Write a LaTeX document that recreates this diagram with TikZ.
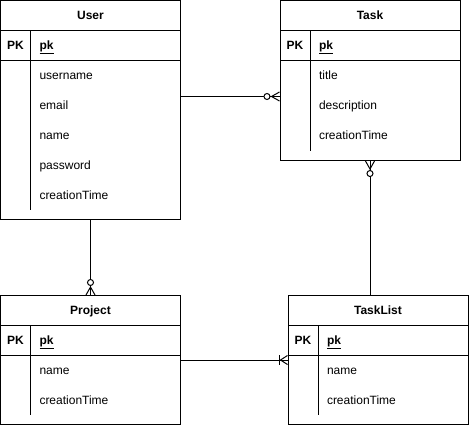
\documentclass[tikz,border=0pt]{standalone}
\usepackage{fontspec}
\setmainfont{Liberation Sans}
\usetikzlibrary{arrows.meta, positioning}

\begin{document}
\begin{tikzpicture}[x=1pt, y=-1pt, line width=1pt, every node/.style={outer sep=0pt, inner sep=0pt, font=\fontsize{12pt}{14pt}\selectfont},
  tbl/.style={draw, minimum width=180pt, anchor=north west},
  head/.style={draw, minimum width=180pt, minimum height=30pt, text height=8.6pt, text depth=0pt, font=\fontsize{12pt}{14pt}\selectfont\bfseries},
  keyrow/.style={draw, minimum width=180pt, minimum height=30pt},
  keycell/.style={minimum width=30pt, minimum height=30pt, text height=8.6pt, text depth=0pt, font=\fontsize{12pt}{14pt}\selectfont\bfseries},
  field/.style={minimum height=30pt, text width=130pt, align=left, text height=8.6pt, text depth=0pt},
  keyname/.style={field, font=\fontsize{12pt}{14pt}\selectfont\bfseries},
  zeromany/.style={postaction={draw, -{Circle[fill=white, length=7pt] Straight Barb[reversed, length=8pt, width=9pt, sep=0pt]}}},
  onemany/.style={postaction={draw, -{Bar[width=10pt, sep=0pt] Straight Barb[reversed, length=7pt, width=9pt]}}}]
\useasboundingbox (0,0) rectangle (469,426);

\node[tbl, minimum height=219pt] (user) at (0.5,0.5) {};
\node[head, below=0pt of user.north] (userhead) {User};
\node[keyrow, below=0pt of userhead] (userkey) {};
\node[keycell, right=0pt of userkey.west] (userpk) {PK};
\node[keyname, right=9pt of userpk] (userid) {\underline{pk}};
\node[field, below=0pt of userid] (userusername) {username};
\node[field, below=0pt of userusername] (useremail) {email};
\node[field, below=0pt of useremail] (username) {name};
\node[field, below=0pt of username] (userpassword) {password};
\node[field, below=0pt of userpassword] (usertime) {creationTime};
\draw ([xshift=30pt]userkey.north west) -- ([xshift=30pt, yshift=10pt]user.south west);

\node[tbl, minimum height=160pt] (task) at (280,0.5) {};
\node[head, below=0pt of task.north] (taskhead) {Task};
\node[keyrow, below=0pt of taskhead] (taskkey) {};
\node[keycell, right=0pt of taskkey.west] (taskpk) {PK};
\node[keyname, right=9pt of taskpk] (taskid) {\underline{pk}};
\node[field, below=0pt of taskid] (tasktitle) {title};
\node[field, below=0pt of tasktitle] (taskdesc) {description};
\node[field, below=0pt of taskdesc] (tasktime) {creationTime};
\draw ([xshift=30pt]taskkey.north west) -- ([xshift=30pt, yshift=10pt]task.south west);

\node[tbl, minimum height=129pt] (project) at (0.5,295.5) {};
\node[head, below=0pt of project.north] (projecthead) {Project};
\node[keyrow, below=0pt of projecthead] (projectkey) {};
\node[keycell, right=0pt of projectkey.west] (projectpk) {PK};
\node[keyname, right=9pt of projectpk] (projectid) {\underline{pk}};
\node[field, below=0pt of projectid] (projectname) {name};
\node[field, below=0pt of projectname] (projecttime) {creationTime};
\draw ([xshift=30pt]projectkey.north west) -- ([xshift=30pt, yshift=10pt]project.south west);

\node[tbl, minimum height=129pt] (tasklist) at (288,295.5) {};
\node[head, below=0pt of tasklist.north] (tasklisthead) {TaskList};
\node[keyrow, below=0pt of tasklisthead] (tasklistkey) {};
\node[keycell, right=0pt of tasklistkey.west] (tasklistpk) {PK};
\node[keyname, right=9pt of tasklistpk] (tasklistid) {\underline{pk}};
\node[field, below=0pt of tasklistid] (tasklistname) {name};
\node[field, below=0pt of tasklistname] (tasklisttime) {creationTime};
\draw ([xshift=30pt]tasklistkey.north west) -- ([xshift=30pt, yshift=10pt]tasklist.south west);

\coordinate (taskin) at ([yshift=-16pt]task.west);
\draw[zeromany] (user.east |- taskin) -- (taskin);
\draw[zeromany] (user.south) -- (project.north);
\draw[zeromany] (tasklist.north -| task.south) -- (task.south);
\draw[onemany] (project.east) -- (tasklist.west);
\end{tikzpicture}
\end{document}
